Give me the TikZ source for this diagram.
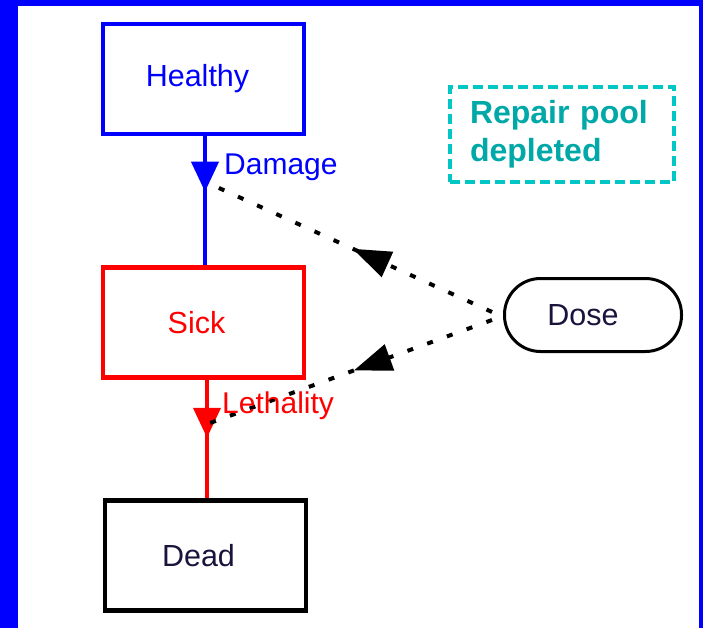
\documentclass[tikz,border=0pt]{standalone}
\usepackage{fontspec}
\setmainfont{Liberation Sans}
\usetikzlibrary{arrows.meta,decorations.markings}
\definecolor{tealline}{RGB}{0,198,198}
\definecolor{tealtext}{RGB}{0,168,168}
\definecolor{frameblue}{RGB}{0,0,255}
\definecolor{dosetext}{RGB}{25,20,60}
\begin{document}
\begin{tikzpicture}[x=1pt,y=-1pt,
  box/.style={draw,rectangle,line width=4.5pt,minimum width=201pt,minimum height=110pt,inner sep=0pt,
    font=\fontsize{30.5}{35}\selectfont},
  flow/.style={line width=4pt,
    decoration={markings,mark=at position #1 with {\arrow{Triangle[length=30pt,width=27pt]}}},
    postaction={decorate}},
  infl/.style={line width=4pt,dash pattern=on 6pt off 15pt,
    decoration={markings,mark=at position #1 with {\arrow{Triangle[length=38pt,width=27pt]}}},
    postaction={decorate}},
  lbl/.style={anchor=base west,inner sep=0pt,font=\fontsize{30}{34}\selectfont}
]
\useasboundingbox (0,0) rectangle (703,628);
\fill[frameblue] (0,0) rectangle (703,628);
\fill[white] (18,6) rectangle (699,628);

\node[box,draw=frameblue,text=frameblue] (healthy) at (203.5,79) {\hspace*{-12pt}Healthy};
\node[box,draw=red,text=red] (sick) at (203.5,322.5) {\hspace*{-14pt}Sick};
\node[box,draw=black,text=dosetext] (dead) at (205.5,555.5) {\hspace*{-14pt}Dead};
\node[draw=black,line width=3pt,rectangle,rounded corners=36pt,minimum width=177pt,minimum height=73pt,
  inner sep=0pt,text=dosetext,font=\fontsize{30.5}{35}\selectfont] (dose) at (593,315) {\hspace*{-20pt}Dose};
\node[draw=tealline,line width=4pt,dash pattern=on 10pt off 5pt,rectangle,minimum height=95pt,
  text width=184pt,inner xsep=20pt,inner ysep=0pt,align=left,text=tealtext,
  font=\bfseries\fontsize{32}{38}\selectfont] (repair) at (562,134.5) {Repair pool\\depleted};

\coordinate (dmg) at (208,183);
\coordinate (leth) at (210,423);
\coordinate (d1) at (492,312);
\coordinate (d2) at (492,320);

\draw[frameblue,flow=0.43] (healthy.south -| 205,0) -- (sick.north -| 205,0);
\draw[red,flow=0.49] (sick.south -| 207,0) -- (dead.north -| 207,0);

\draw[black,infl=0.49] (d1) -- (dmg);
\draw[black,infl=0.49] (d2) -- (leth);

\node[lbl,text=frameblue] (damage) at (224,175) {Damage};
\node[lbl,text=red] (lethality) at (222,413) {Lethality};
\end{tikzpicture}
\end{document}
